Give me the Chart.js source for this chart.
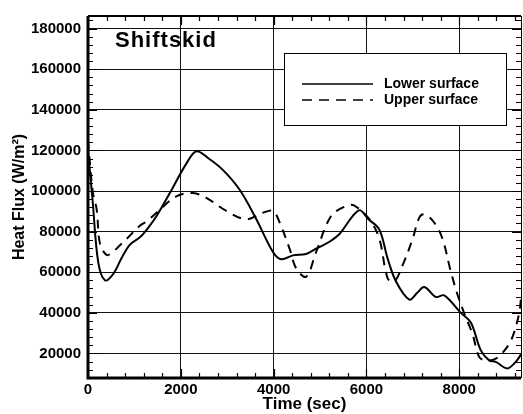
<!DOCTYPE html>
<html>
<head>
<meta charset="utf-8">
<script src="https://cdn.jsdelivr.net/npm/chart.js@4.4.0/dist/chart.umd.min.js"></script>
<style>
  html, body { margin: 0; padding: 0; background: #fff; }
  #wrap { width: 523px; height: 414px; }
</style>
</head>
<body>
<div id="wrap"><canvas id="myChart" width="523" height="414"></canvas></div>
<script>
// data
const lowerTime = [0, 100, 220, 365, 540, 724, 900, 1118, 1300, 1477, 1763, 2122, 2336, 2600, 2910, 3268, 3627, 3985, 4164, 4414, 4700, 4916, 5203, 5418, 5835, 6050, 6278, 6457, 6637, 6923, 7100, 7246, 7496, 7675, 8034, 8249, 8464, 8643, 8786, 9036, 9215, 9330];
const lowerFlux = [120000, 95000, 65000, 56000, 59000, 67000, 73500, 77200, 82000, 87700, 99000, 113600, 119600, 116000, 110300, 100600, 86100, 70000, 66400, 68300, 69000, 71600, 75000, 78800, 90500, 86000, 81000, 66700, 55400, 46500, 50000, 52700, 47800, 48600, 40000, 35200, 21500, 16600, 15800, 12600, 15800, 19500];

const upperTime = [0, 100, 187, 258, 400, 509, 700, 831, 1118, 1260, 1477, 1906, 2264, 2551, 2981, 3411, 3769, 3985, 4129, 4343, 4486, 4701, 4916, 5239, 5561, 5720, 6063, 6278, 6457, 6600, 6780, 6995, 7138, 7246, 7460, 7639, 7818, 7961, 8141, 8285, 8428, 8572, 8786, 9002, 9145, 9288, 9330];
const upperFlux = [125000, 100000, 91000, 74000, 68500, 69500, 73500, 76400, 82900, 85000, 89300, 97400, 99000, 96600, 90200, 86100, 89300, 90200, 84500, 71600, 61900, 57800, 70000, 87700, 92600, 93000, 86100, 76400, 57000, 55400, 63500, 76400, 86900, 88500, 84500, 76400, 60300, 49000, 37700, 29600, 18300, 16600, 17400, 22300, 28000, 39400, 47000];

const xTicks = [0, 2000, 4000, 6000, 8000];
const yTicks = [20000, 40000, 60000, 80000, 100000, 120000, 140000, 160000, 180000];
const seriesNames = ["Lower surface", "Upper surface"];
const chartTitle = "Shiftskid";

const FONT = "'Liberation Sans', Arial, sans-serif";

const toPoints = (xs, ys) => xs.map((x, i) => ({x: x, y: ys[i]}));

// marcos, ticks hacia dentro, titulo y leyenda
const extras = {
    id: "extras",
    afterDraw(chart) {
        const ctx = chart.ctx;
        const a = chart.chartArea;
        const sx = chart.scales.x;
        const sy = chart.scales.y;
        ctx.save();
        ctx.strokeStyle = "#000";

        // minor + major ticks
        ctx.lineWidth = 1.2;
        ctx.beginPath();
        for (let v = 0; v <= sx.max; v += 400) {
            const px = Math.round(sx.getPixelForValue(v)) + 0.5;
            const len = v % 2000 === 0 ? 9 : 5;
            ctx.moveTo(px, a.bottom); ctx.lineTo(px, a.bottom - len);
            ctx.moveTo(px, a.top); ctx.lineTo(px, a.top + len);
        }
        for (let v = 8000; v <= sy.max; v += 4000) {
            const py = Math.round(sy.getPixelForValue(v)) + 0.5;
            const len = v % 20000 === 0 ? 9 : 5;
            ctx.moveTo(a.left, py); ctx.lineTo(a.left + len, py);
            ctx.moveTo(a.right, py); ctx.lineTo(a.right - len, py);
        }
        ctx.stroke();

        // frame
        ctx.lineWidth = 3;
        ctx.beginPath();
        ctx.moveTo(a.left, a.top); ctx.lineTo(a.left, a.bottom);
        ctx.lineTo(a.right, a.bottom);
        ctx.stroke();
        ctx.lineWidth = 2;
        ctx.beginPath();
        ctx.moveTo(a.left, a.top); ctx.lineTo(a.right, a.top);
        ctx.stroke();
        ctx.lineWidth = 1;
        ctx.beginPath();
        ctx.moveTo(a.right + 0.5, a.top); ctx.lineTo(a.right + 0.5, a.bottom);
        ctx.stroke();

        // title
        ctx.fillStyle = "#000";
        ctx.font = "bold 22px " + FONT;
        ctx.letterSpacing = "1px";
        ctx.textBaseline = "alphabetic";
        ctx.textAlign = "left";
        ctx.fillText(chartTitle, 115, 47);
        ctx.letterSpacing = "0px";

        // legend
        ctx.fillStyle = "#fff";
        ctx.fillRect(284, 53, 222, 72);
        ctx.lineWidth = 1;
        ctx.strokeRect(284.5, 53.5, 222, 72);
        ctx.lineWidth = 1.5;
        ctx.beginPath();
        ctx.moveTo(302, 84); ctx.lineTo(373, 84);
        ctx.stroke();
        ctx.setLineDash([10, 7]);
        ctx.beginPath();
        ctx.moveTo(302, 100); ctx.lineTo(373, 100);
        ctx.stroke();
        ctx.setLineDash([]);
        ctx.fillStyle = "#000";
        ctx.font = "bold 14px " + FONT;
        ctx.textBaseline = "middle";
        ctx.fillText(seriesNames[0], 384, 84);
        ctx.fillText(seriesNames[1], 384, 100);
        ctx.restore();
    }
};

const chartDOM = document.getElementById("myChart");
const myChart = new Chart(chartDOM, {
    type: "line",
    data: {
        datasets: [
            {
                label: seriesNames[0],
                data: toPoints(lowerTime, lowerFlux),
                borderColor: "#000",
                borderWidth: 2,
                pointRadius: 0,
                tension: 0.35,
                fill: false
            },
            {
                label: seriesNames[1],
                data: toPoints(upperTime, upperFlux),
                borderColor: "#000",
                borderWidth: 2,
                borderDash: [9, 7],
                pointRadius: 0,
                tension: 0.35,
                fill: false
            }
        ]
    },
    options: {
        responsive: false,
        animation: false,
        layout: { padding: { top: 10, right: 2, left: 0, bottom: 0 } },
        plugins: { legend: { display: false }, tooltip: { enabled: false } },
        scales: {
            x: {
                type: "linear",
                min: 0,
                max: 9330,
                afterBuildTicks: s => { s.ticks = xTicks.map(v => ({value: v})); },
                afterFit: s => { s.height = 36; },
                grid: { color: "#111", lineWidth: 1, drawTicks: false },
                border: { display: false },
                ticks: {
                    color: "#000",
                    padding: 3,
                    maxRotation: 0,
                    callback: v => String(v),
                    font: { family: FONT, size: 15, weight: "bold" }
                },
                title: {
                    display: true,
                    text: "Time (sec)",
                    color: "#000",
                    padding: { top: 0, bottom: 1 },
                    font: { family: FONT, size: 17, weight: "bold", lineHeight: 1 }
                }
            },
            y: {
                min: 7900,
                max: 186200,
                afterBuildTicks: s => { s.ticks = yTicks.map(v => ({value: v})); },
                afterFit: s => { s.width = 88; },
                grid: { color: "#111", lineWidth: 1, drawTicks: false },
                border: { display: false },
                ticks: {
                    color: "#000",
                    padding: 7,
                    callback: v => String(v),
                    font: { family: FONT, size: 15, weight: "bold" }
                },
                title: {
                    display: true,
                    text: "Heat Flux (W/m²)",
                    color: "#000",
                    padding: { top: 12, bottom: 0 },
                    font: { family: FONT, size: 16, weight: "bold", lineHeight: 1 }
                }
            }
        }
    },
    plugins: [extras]
});
</script>
</body>
</html>
